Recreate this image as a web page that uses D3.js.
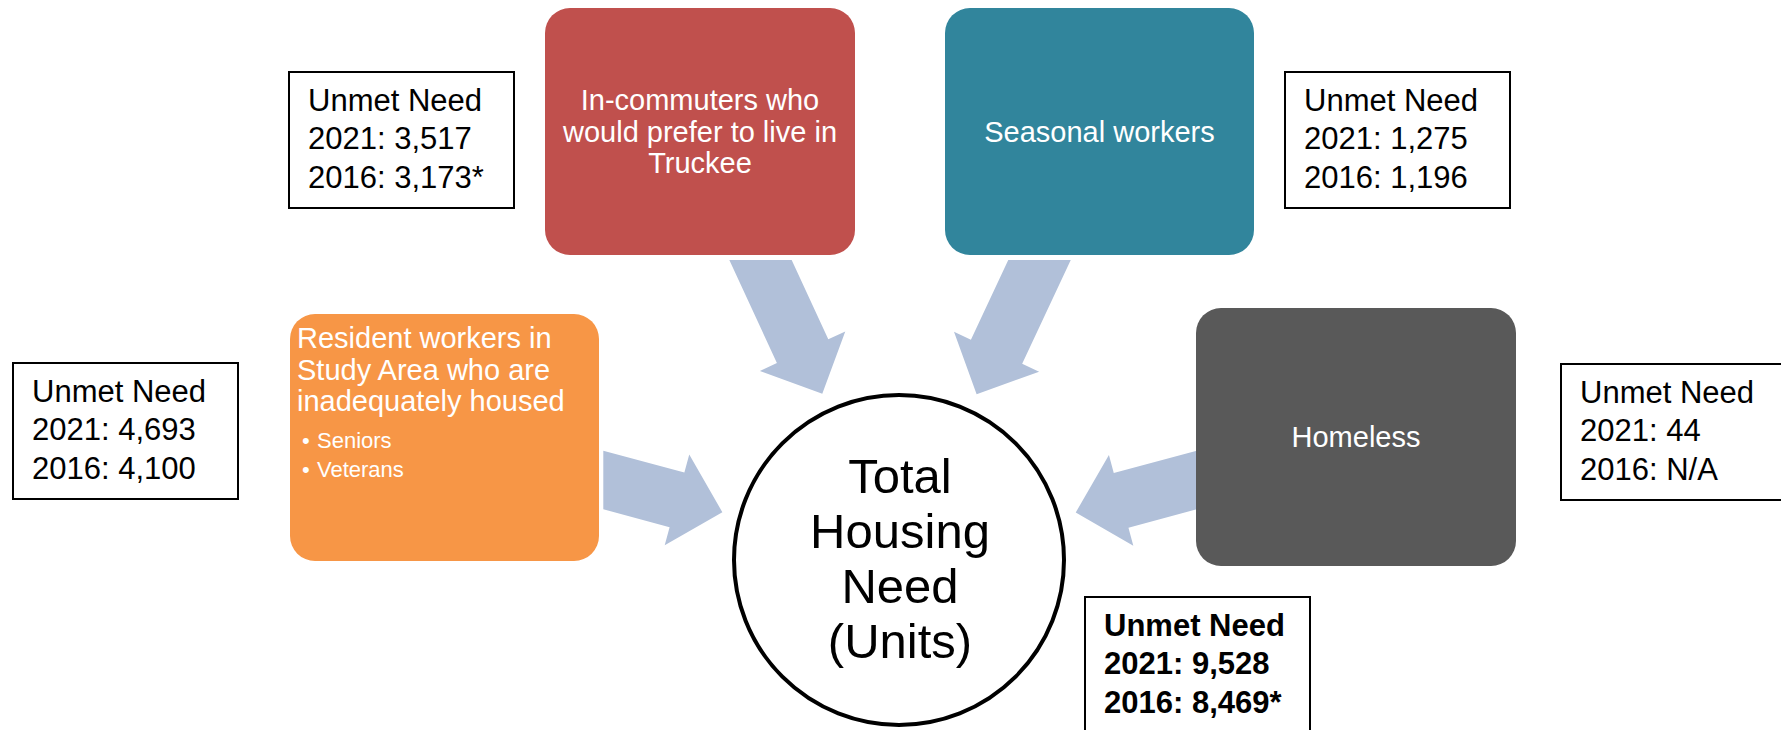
<!DOCTYPE html>
<html>
<head>
<meta charset="utf-8">
<script src="https://cdn.jsdelivr.net/npm/d3@7"></script>
<style>
    body { margin: 0; background: #fff; }
    svg { display: block; font-family: "Liberation Sans", Arial, sans-serif; }
</style>
</head>
<body>
<div id="chart"></div>
<script>
// Values
const labelLines = [
    ["In-commuters who", "would prefer to live in", "Truckee"],
    ["Seasonal workers"],
    ["Resident workers in", "Study Area who are", "inadequately housed"],
    ["Homeless"]
];
const subItems = [[], [], ["Seniors", "Veterans"], []];
const need2021 = [3517, 1275, 4693, 44];
const need2016 = [3173, 1196, 4100, null];
const star2016 = [true, false, false, false];
const totalLines = ["Total", "Housing", "Need", "(Units)"];
const total2021 = 9528;
const total2016 = 8469;
const totalStar2016 = true;
const colors = ["#C0504D", "#31859C", "#F79646", "#595959"];

// Layout (pixels)
const W = 1781, H = 730;
const boxes = [
    { x: 545, y: 8, w: 310, h: 247, align: "middle" },
    { x: 945, y: 8, w: 309, h: 247, align: "middle" },
    { x: 290, y: 314, w: 309, h: 247, align: "top" },
    { x: 1196, y: 308, w: 320, h: 258, align: "middle" }
];
const notes = [
    { x: 289, y: 72 }, { x: 1285, y: 72 }, { x: 13, y: 363 }, { x: 1561, y: 364 }
];
const totalNote = { x: 1085, y: 597 };
const arrowTails = [
    { x: 760.5, y: 260, cut: "h" },
    { x: 1039.5, y: 260, cut: "h" },
    { x: 603.3, y: 480, cut: "v" },
    { x: 1196.7, y: 480, cut: "v" }
];
const circle = { cx: 899, cy: 560, r: 165 };

const fmt = d3.format(",");

const svg = d3.select("#chart").append("svg")
    .attr("width", W)
    .attr("height", H);

svg.append("rect").attr("width", W).attr("height", H).attr("fill", "#fff");

// block arrows pointing at the circle centre
function arrowPoints(tail) {
    const dx = circle.cx - tail.x, dy = circle.cy - tail.y;
    const len = Math.hypot(dx, dy);
    const u = [dx / len, dy / len];
    const n = [-u[1], u[0]];
    const tipDist = 183, headLen = 47, shaftW = 56.6, headW = 94;
    const tip = [circle.cx - u[0] * tipDist, circle.cy - u[1] * tipDist];
    const hb = [tip[0] - u[0] * headLen, tip[1] - u[1] * headLen];
    const side = s => {
        const p = [hb[0] + n[0] * s, hb[1] + n[1] * s];
        // walk back along the shaft to the cut line
        const t = tail.cut === "h" ? (tail.y - p[1]) / u[1] : (tail.x - p[0]) / u[0];
        return { tailPt: [p[0] + u[0] * t, p[1] + u[1] * t], base: p };
    };
    const a = side(shaftW / 2), b = side(-shaftW / 2);
    const wa = [hb[0] + n[0] * headW / 2, hb[1] + n[1] * headW / 2];
    const wb = [hb[0] - n[0] * headW / 2, hb[1] - n[1] * headW / 2];
    return [a.tailPt, a.base, wa, tip, wb, b.base, b.tailPt];
}

svg.append("g").selectAll("path")
    .data(arrowTails)
    .join("path")
    .attr("d", d => d3.line()(arrowPoints(d)) + "Z")
    .attr("fill", "#B1C0D9");

// category boxes
const boxG = svg.append("g").selectAll("g")
    .data(boxes)
    .join("g");

boxG.append("rect")
    .attr("x", d => d.x).attr("y", d => d.y)
    .attr("width", d => d.w).attr("height", d => d.h)
    .attr("rx", 25).attr("ry", 25)
    .attr("fill", (d, i) => colors[i]);

boxG.each(function (b, i) {
    const g = d3.select(this);
    const lines = labelLines[i];
    const lh = 31.5;
    if (b.align === "middle") {
        const cx = b.x + b.w / 2;
        const y0 = b.y + b.h / 2 + 10 - (lines.length - 1) / 2 * lh;
        lines.forEach((t, k) => {
            g.append("text")
                .attr("x", cx).attr("y", y0 + k * lh)
                .attr("text-anchor", "middle")
                .attr("fill", "#fff")
                .attr("font-size", 29)
                .text(t);
        });
    } else {
        const x0 = b.x + 7;
        const y0 = b.y + 34;
        lines.forEach((t, k) => {
            g.append("text")
                .attr("x", x0).attr("y", y0 + k * lh)
                .attr("fill", "#fff")
                .attr("font-size", 29)
                .text(t);
        });
        const yb = y0 + (lines.length - 1) * lh + 37;
        subItems[i].forEach((t, k) => {
            const tx = g.append("text")
                .attr("y", yb + k * 29)
                .attr("fill", "#fff")
                .attr("font-size", 22);
            tx.append("tspan").attr("x", x0 + 5).text("\u2022");
            tx.append("tspan").attr("x", x0 + 20).text(t);
        });
    }
});

// unmet need note boxes
function noteBox(pos, v21, v16, star, bold) {
    const g = svg.append("g");
    g.append("rect")
        .attr("x", pos.x).attr("y", pos.y)
        .attr("width", 225).attr("height", 136)
        .attr("fill", "#fff")
        .attr("stroke", "#000")
        .attr("stroke-width", 2);
    const rows = [
        "Unmet Need",
        "2021: " + fmt(v21),
        "2016: " + (v16 == null ? "N/A" : fmt(v16)) + (star ? "*" : "")
    ];
    g.selectAll("text")
        .data(rows)
        .join("text")
        .attr("x", pos.x + 19)
        .attr("y", (d, k) => pos.y + 38.5 + k * 38.5)
        .attr("font-size", 31)
        .attr("font-weight", bold ? "bold" : "normal")
        .attr("fill", "#000")
        .text(d => d);
}

notes.forEach((p, i) => noteBox(p, need2021[i], need2016[i], star2016[i], false));
noteBox(totalNote, total2021, total2016, totalStar2016, true);

// central circle
svg.append("circle")
    .attr("cx", circle.cx).attr("cy", circle.cy).attr("r", circle.r)
    .attr("fill", "#fff")
    .attr("stroke", "#000")
    .attr("stroke-width", 4);

svg.append("g").selectAll("text")
    .data(totalLines)
    .join("text")
    .attr("x", circle.cx + 1)
    .attr("y", (d, k) => 493 + k * 55)
    .attr("text-anchor", "middle")
    .attr("font-size", 49)
    .attr("fill", "#000")
    .text(d => d);
</script>
</body>
</html>
